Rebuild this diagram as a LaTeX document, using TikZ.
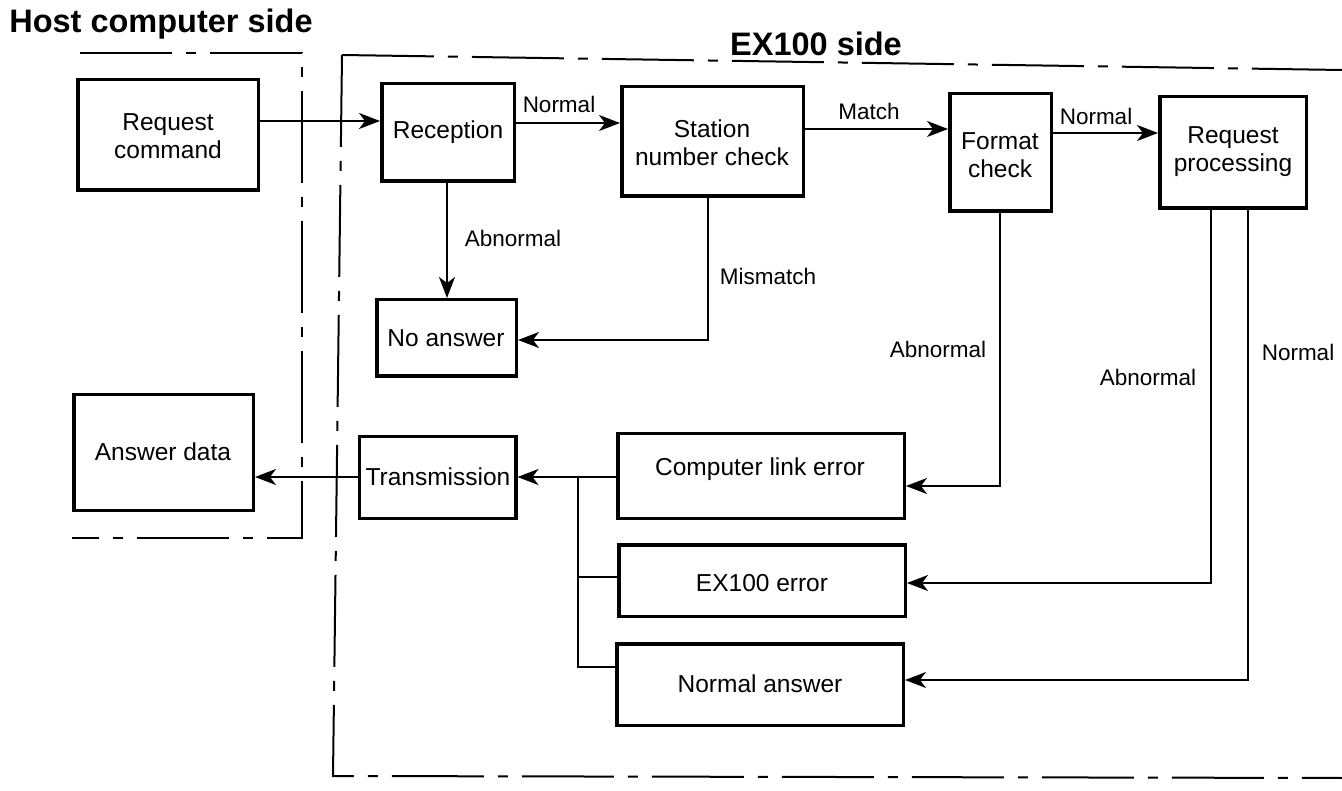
\documentclass[tikz,border=0pt]{standalone}
\usepackage{fontspec}
\setmainfont{Liberation Sans}
\usetikzlibrary{arrows.meta,calc}
\begin{document}
\begin{tikzpicture}[x=1pt,y=-1pt,
 box/.style={draw,line width=3.5pt,inner sep=0pt},
 txt/.style={font=\fontsize{24.5}{28}\selectfont,align=center,inner sep=0pt},
 lbl/.style={font=\fontsize{22.5}{26}\selectfont,inner sep=0pt},
 ttl/.style={font=\fontsize{32.5}{36}\selectfont\bfseries,inner sep=0pt},
 arr/.style={line width=2pt,-{Stealth[length=21pt,width=16pt,inset=6pt]}},
 conn/.style={line width=2pt},
 bound/.style={line width=2pt,dash pattern=on 92pt off 14pt on 10pt off 14pt}]
\useasboundingbox (0,0) rectangle (1342,791);
% titles
\node[ttl] (t1) at (161,24) {Host computer side};
\node[ttl] (t2) at (816,44) {EX100 side};
% boundaries
\draw[bound] (80,53) -- (302,53) -- (302,538) -- (72,538);
\draw[bound] (342,55) -- (1342,70);
\draw[bound] (342,55) -- (333,776) -- (1342,778);
% boxes
\node[box,minimum width=180.5pt,minimum height=110.5pt] (reqcmd) at (168,135) {};
\node[box,minimum width=179.5pt,minimum height=115.5pt] (answer) at (163.5,452.5) {};
\node[box,minimum width=132.5pt,minimum height=97.5pt] (rec) at (448,132.5) {};
\node[box,minimum width=181.5pt,minimum height=109.5pt] (stn) at (712.5,141.5) {};
\node[box,minimum width=101.5pt,minimum height=117.5pt] (fmt) at (1000.5,152.5) {};
\node[box,minimum width=146.5pt,minimum height=111.5pt] (rp) at (1233,152.5) {};
\node[box,minimum width=139.5pt,minimum height=76.5pt] (noans) at (446.5,338) {};
\node[box,minimum width=156.5pt,minimum height=81.5pt] (trans) at (437.5,477.5) {};
\node[box,minimum width=286.5pt,minimum height=84.5pt] (cle) at (761,476) {};
\node[box,minimum width=286.5pt,minimum height=71.5pt] (ex) at (762,580.5) {};
\node[box,minimum width=286.5pt,minimum height=81.5pt] (na) at (760,684.5) {};
% box texts
\node[txt] (reqcmd-t) at (168,136) {Request\\command};
\node[txt] (answer-t) at (163,452) {Answer data};
\node[txt] (rec-t) at (448,132) {Reception};
\node[txt] (stn-t) at (712,143) {Station\\number check};
\node[txt] (fmt-t) at (1000,155) {Format\\check};
\node[txt] (rp-t) at (1233,152) {Request\\processing};
\node[txt] (noans-t) at (446,338) {No answer};
\node[txt] (trans-t) at (438,477) {Transmission};
\node[txt] (cle-t) at (760,469) {Computer link error};
\node[txt] (ex-t) at (762,583) {EX100 error};
\node[txt] (na-t) at (760,684) {Normal answer};
% connectors
\draw[arr] (reqcmd.east |- 0,121) -- (rec.west |- 0,121);
\draw[arr] (rec.east |- 0,123) -- (stn.west |- 0,123);
\draw[arr] (stn.east |- 0,129) -- (fmt.west |- 0,129);
\draw[arr] (fmt.east |- 0,133) -- (rp.west |- 0,133);
\draw[arr] (rec.south -| 447,0) -- (noans.north -| 447,0);
\draw[arr] (stn.south -| 708,0) |- (noans.east |- 0,340);
\draw[arr] (fmt.south -| 1000,0) |- (cle.east |- 0,486);
\draw[arr] (rp.south -| 1211,0) |- (ex.east |- 0,583);
\draw[arr] (rp.south -| 1248,0) |- (na.east |- 0,680);
\draw[arr] (cle.west |- 0,477) -- (trans.east |- 0,477);
\coordinate (j) at (578,477);
\draw[conn] (j) |- (na.west |- 0,667);
\draw[conn] (j |- 0,577) -- (ex.west |- 0,577);
\draw[arr] (trans.west |- 0,477) -- (answer.east |- 0,477);
% labels
\node[lbl] (l1) at (559,104) {Normal};
\node[lbl] (l2) at (869,111) {Match};
\node[lbl] (l3) at (1096,116) {Normal};
\node[lbl] (l4) at (513,238) {Abnormal};
\node[lbl] (l5) at (768,276) {Mismatch};
\node[lbl] (l6) at (938,349) {Abnormal};
\node[lbl] (l7) at (1148,377) {Abnormal};
\node[lbl] (l8) at (1298,352) {Normal};
\end{tikzpicture}
\end{document}
